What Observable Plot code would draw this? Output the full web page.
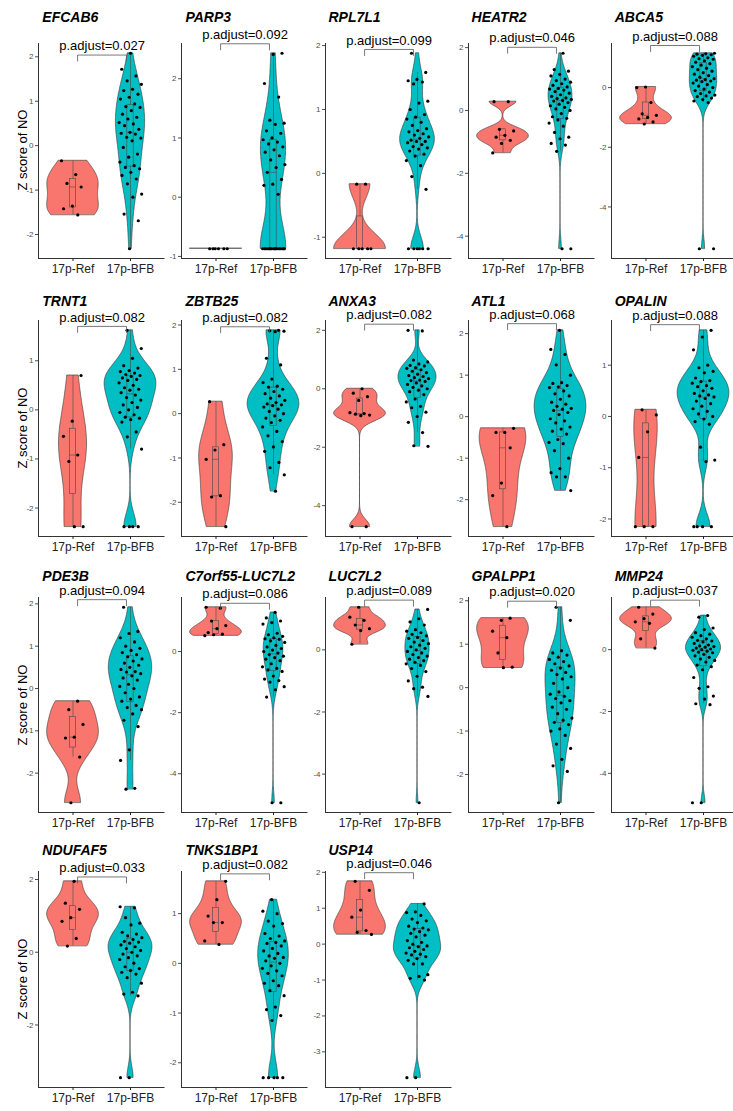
<!DOCTYPE html>
<html><head><meta charset="utf-8">
<script src="https://cdn.jsdelivr.net/npm/d3@7"></script>
<script src="https://cdn.jsdelivr.net/npm/@observablehq/plot@0.6"></script>
<style>
html,body{margin:0;padding:0;background:#fff;}
#chart{position:relative;width:733px;height:1111px;overflow:hidden;font-family:"Liberation Sans",Arial,sans-serif;}
.gene{position:absolute;font-weight:bold;font-style:italic;font-size:14px;line-height:1;color:#000;white-space:nowrap;}
.ytitle{position:absolute;font-size:13px;line-height:1;transform:translate(-50%,-50%) rotate(-90deg);white-space:nowrap;color:#000;}
.panel{position:absolute;}
.panel svg{overflow:visible;max-width:none !important;display:block;}
</style></head><body><div id="chart"></div>
<script>
// ---------- data ----------
const groups = ["17p-Ref", "17p-BFB"];
const groupColors = ["#F8766D", "#00BFC4"];
const yTitle = "Z score of NO";
const genes = ["EFCAB6","PARP3","RPL7L1","HEATR2","ABCA5",
  "TRNT1","ZBTB25","ANXA3","ATL1","OPALIN",
  "PDE3B","C7orf55-LUC7L2","LUC7L2","GPALPP1","MMP24",
  "NDUFAF5","TNKS1BP1","USP14"];
const pAdjust = ["0.027","0.092","0.099","0.046","0.088",
  "0.082","0.082","0.082","0.068","0.088",
  "0.094","0.086","0.089","0.020","0.037",
  "0.033","0.082","0.046"];
const bracketY = [2.04,2.59,1.94,2.01,1.41, 1.70,1.96,2.21,2.24,1.79, 2.10,1.58,1.60,1.99,1.60, 2.07,1.80,1.99];
const yTicks = [[-2,-1,0,1,2],[-1,0,1,2],[-1,0,1,2],[-4,-2,0,2],[-4,-2,0],
  [-2,-1,0,1],[-2,-1,0,1,2],[-4,-2,0,2],[-2,-1,0,1,2],[-2,-1,0,1],
  [-2,-1,0,1,2],[-4,-2,0],[-4,-2,0],[-2,-1,0,1,2],[-4,-2,0],
  [-2,0,2],[-2,-1,0,1],[-3,-2,-1,0,1,2]];
const refZ = [
  [-0.34,-0.65,-0.85,-0.93,-1.36,-1.42,-1.56],
  [-0.87,-0.87,-0.87,-0.87,-0.87,-0.87],
  [-0.17,-0.17,-1.18,-1.18,-1.18,-1.18,-1.18],
  [0.28,0.28,-0.6,-0.65,-0.79,-0.85,-0.95,-1.05,-1.35],
  [0.02,0.0,-0.5,-0.88,-0.93,-1.0,-1.05,-1.15,-1.22],
  [0.7,-0.23,-0.54,-0.92,-1.05,-2.38,-2.38],
  [0.27,-0.7,-0.82,-1.03,-1.85,-1.88,-2.55],
  [0.0,-0.15,-0.27,-0.4,-0.82,-0.85,-0.87,-0.9,-0.92,-4.72,-4.72],
  [-0.28,-0.38,-0.38,-0.75,-1.6,-1.9,-2.65],
  [0.13,0.03,-0.3,-0.8,-2.15,-2.15,-2.15],
  [-0.3,-0.5,-0.85,-1.15,-1.17,-1.62,-2.7],
  [1.45,1.42,1.0,0.85,0.75,0.62,0.57,0.55,0.52],
  [1.37,1.05,0.95,0.8,0.68,0.62,0.18],
  [1.6,1.55,1.3,1.15,0.8,0.47,0.46],
  [1.37,1.15,1.0,0.9,0.85,0.35,0.05],
  [1.95,1.35,1.18,0.95,0.85,0.38,0.17],
  [1.65,1.28,0.95,0.82,0.82,0.45,0.38],
  [1.75,1.5,0.95,0.75,0.38,0.33,0.27]
];
const bfbZ = [
  [2.08,1.72,1.57,1.46,1.38,1.27,1.24,1.16,1.09,1.05,0.94,0.88,0.86,0.79,0.71,0.64,0.6,0.52,0.49,0.45,0.37,0.3,0.28,0.26,0.19,0.17,0.11,-0.04,-0.19,-0.26,-0.37,-0.45,-0.49,-0.52,-0.6,-0.67,-0.75,-0.86,-1.09,-1.16,-1.54,-1.69,-2.32],
  [2.43,2.41,1.92,1.69,1.3,1.25,1.23,1.12,1.08,1.0,0.97,0.93,0.9,0.85,0.8,0.76,0.7,0.63,0.55,0.5,0.42,0.3,0.22,0.2,0.05,-0.87,-0.87,-0.87,-0.87,-0.87,-0.87,-0.87,-0.87,-0.87,-0.87,-0.87,-0.87,-0.87,-0.87,-0.87,-0.87],
  [1.88,1.58,1.47,1.45,1.43,1.4,1.13,1.1,1.0,0.92,0.88,0.85,0.8,0.75,0.7,0.67,0.65,0.62,0.6,0.57,0.55,0.52,0.5,0.5,0.48,0.45,0.42,0.4,0.38,0.35,0.3,0.27,0.2,0.12,-0.05,-0.25,-1.18,-1.18,-1.18,-1.18,-1.18,-1.18],
  [1.82,1.3,1.25,1.15,1.1,1.0,0.95,0.9,0.85,0.8,0.75,0.7,0.68,0.65,0.6,0.55,0.5,0.45,0.4,0.38,0.35,0.32,0.3,0.25,0.2,0.15,0.1,0.05,0.0,-0.1,-0.2,-0.25,-0.3,-0.4,-0.5,-0.7,-0.85,-0.9,-1.05,-1.1,-1.3,-4.4,-4.4],
  [1.15,1.13,1.12,1.1,1.08,1.05,1.0,0.97,0.95,0.9,0.85,0.8,0.75,0.7,0.65,0.6,0.55,0.5,0.45,0.4,0.35,0.3,0.27,0.25,0.22,0.2,0.15,0.1,0.05,0.0,-0.05,-0.1,-0.15,-0.2,-0.25,-0.28,-0.3,-0.35,-0.4,-0.45,-0.5,-5.4,-5.4],
  [1.62,1.25,1.05,0.9,0.85,0.8,0.78,0.75,0.72,0.7,0.68,0.65,0.62,0.6,0.55,0.5,0.45,0.42,0.4,0.35,0.3,0.25,0.2,0.15,0.1,0.05,0.0,-0.05,-0.1,-0.15,-0.17,-0.2,-0.25,-0.45,-0.55,-0.8,-2.38,-2.38,-2.38,-2.38],
  [1.88,1.87,1.86,1.85,1.25,1.1,0.78,0.7,0.62,0.6,0.55,0.5,0.45,0.4,0.35,0.3,0.25,0.22,0.2,0.18,0.15,0.1,0.05,0.0,-0.05,-0.1,-0.15,-0.2,-0.3,-0.4,-0.5,-0.63,-0.75,-0.85,-1.1,-1.22,-1.38,-1.75],
  [2.0,1.98,0.98,0.92,0.85,0.8,0.78,0.72,0.7,0.65,0.6,0.55,0.5,0.45,0.42,0.38,0.35,0.3,0.28,0.25,0.2,0.15,0.1,0.05,0.0,-0.05,-0.1,-0.2,-0.35,-0.45,-0.6,-0.65,-0.8,-0.95,-1.15,-1.5,-1.95,-1.97],
  [2.08,1.62,1.5,1.25,1.0,0.82,0.8,0.75,0.72,0.7,0.62,0.55,0.5,0.42,0.35,0.3,0.25,0.2,0.18,0.15,0.1,0.05,-0.05,-0.1,-0.15,-0.25,-0.3,-0.35,-0.42,-0.55,-0.62,-0.65,-0.82,-1.0,-1.25,-1.35,-1.45,-1.45,-1.78],
  [1.68,1.55,1.3,1.0,0.95,0.88,0.85,0.75,0.7,0.68,0.65,0.6,0.58,0.55,0.5,0.45,0.42,0.4,0.38,0.35,0.3,0.25,0.2,0.15,0.1,0.05,0.0,-0.05,-0.1,-0.15,-0.6,-0.85,-0.88,-2.15,-2.15,-2.15,-2.15],
  [1.92,1.35,1.3,1.2,1.1,1.0,0.95,0.9,0.85,0.8,0.75,0.7,0.65,0.6,0.55,0.5,0.45,0.4,0.39,0.35,0.3,0.25,0.2,0.1,0.05,0.0,-0.1,-0.2,-0.25,-0.3,-0.4,-0.45,-0.5,-0.6,-0.75,-0.9,-1.45,-1.7,-2.36,-2.38],
  [1.28,1.1,1.0,0.95,0.9,0.6,0.55,0.5,0.45,0.42,0.4,0.35,0.3,0.2,0.15,0.1,0.05,0.0,-0.05,-0.1,-0.15,-0.2,-0.25,-0.3,-0.4,-0.5,-0.55,-0.6,-0.65,-0.8,-0.9,-0.95,-1.0,-1.15,-1.25,-1.49,-4.95,-4.95],
  [1.3,1.0,0.9,0.8,0.65,0.6,0.55,0.5,0.45,0.4,0.37,0.3,0.25,0.2,0.15,0.1,0.05,0.0,-0.05,-0.1,-0.15,-0.2,-0.25,-0.3,-0.35,-0.4,-0.45,-0.5,-0.6,-0.7,-0.85,-1.0,-1.2,-1.25,-1.5,-4.92],
  [1.85,1.55,0.85,0.8,0.75,0.7,0.65,0.6,0.55,0.5,0.45,0.4,0.35,0.3,0.25,0.2,0.1,0.0,-0.1,-0.15,-0.2,-0.25,-0.3,-0.35,-0.45,-0.5,-0.6,-0.7,-0.75,-0.8,-0.85,-0.95,-1.0,-1.1,-1.3,-1.4,-1.65,-1.8,-1.93,-2.65],
  [1.1,1.05,0.7,0.65,0.55,0.5,0.45,0.4,0.35,0.3,0.28,0.25,0.2,0.15,0.12,0.1,0.08,0.05,0.02,0.0,-0.02,-0.05,-0.08,-0.1,-0.15,-0.2,-0.25,-0.3,-0.35,-0.4,-0.5,-0.55,-0.65,-0.9,-1.2,-1.25,-1.5,-1.6,-1.75,-1.78,-4.95,-4.95],
  [1.25,1.22,0.95,0.8,0.75,0.55,0.5,0.45,0.4,0.35,0.3,0.28,0.25,0.2,0.15,0.1,0.05,0.0,-0.05,-0.1,-0.15,-0.2,-0.3,-0.4,-0.45,-0.5,-0.55,-0.6,-0.7,-0.85,-1.1,-1.15,-1.2,-3.45,-3.45],
  [1.28,1.05,1.0,0.85,0.8,0.75,0.6,0.55,0.5,0.45,0.42,0.4,0.35,0.3,0.25,0.2,0.15,0.12,0.1,0.05,0.0,-0.05,-0.1,-0.15,-0.2,-0.25,-0.35,-0.4,-0.45,-0.55,-0.65,-0.88,-0.93,-1.05,-1.15,-2.3,-2.3,-2.3,-2.3,-2.3],
  [1.12,0.9,0.88,0.8,0.7,0.65,0.6,0.5,0.45,0.42,0.4,0.35,0.3,0.25,0.2,0.1,0.05,0.0,-0.05,-0.07,-0.1,-0.15,-0.2,-0.25,-0.28,-0.3,-0.35,-0.4,-0.45,-0.55,-0.55,-0.85,-0.9,-0.95,-1.0,-3.72,-3.72]
];

// ---------- layout ----------
const colLeft = i => 38.3 + 143.1 * i;
const rowTop = [42.5, 320, 597, 871];
const rowBottom = [257.5, 536, 812, 1087];
const titleY = [17, 301, 575.5, 850];
const PW = 126.5, ML = 30, MR = 8, MT = 44, MB = 30;

function bwNrd0(v) {
  const n = v.length;
  const s = v.slice().sort(d3.ascending);
  const sd = n > 1 ? d3.deviation(s) : 0;
  const iqr = d3.quantileSorted(s, 0.75) - d3.quantileSorted(s, 0.25);
  let lo = Math.min(sd, iqr / 1.34);
  if (!(lo > 0)) lo = sd || Math.abs(s[0]) || 1;
  return 0.9 * lo * Math.pow(n, -0.2);
}
function density(v) {
  const bw = bwNrd0(v), mn = d3.min(v), mx = d3.max(v), N = 160, out = [];
  for (let k = 0; k <= N; k++) {
    const y = mn + (mx - mn) * k / N;
    let s = 0;
    for (const x of v) { const z = (y - x) / bw; s += Math.exp(-0.5 * z * z); }
    out.push({y, d: s / (v.length * bw * Math.sqrt(2 * Math.PI))});
  }
  return out;
}

const chart = document.getElementById("chart");
const font = '"Liberation Sans", Arial, sans-serif';

genes.forEach((gene, g) => {
  const row = Math.floor(g / 5), col = g % 5;
  const vals = [refZ[g], bfbZ[g]];
  const all = vals.flat();
  const mn = d3.min(all), mx = d3.max(all), r = mx - mn;
  const lo = mn - 0.05 * r, hi = mx + 0.05 * r;
  const H = rowBottom[row] - rowTop[row];
  const dens = vals.map(density);
  const maxD = d3.max(dens.flat(), d => d.d);
  const marks = [];
  vals.forEach((v, k) => {
    const c = k + 1;
    const vp = dens[k].map(p => ({y: p.y, x1: c - 0.45 * p.d / maxD, x2: c + 0.45 * p.d / maxD}));
    marks.push(Plot.areaX(vp, {y: "y", x1: "x1", x2: "x2", fill: groupColors[k], stroke: "#333", strokeWidth: 0.6}));
  });
  vals.forEach((v, k) => {
    const c = k + 1;
    const s = v.slice().sort(d3.ascending);
    const q1 = d3.quantileSorted(s, 0.25), q2 = d3.quantileSorted(s, 0.5), q3 = d3.quantileSorted(s, 0.75);
    const iqr = q3 - q1;
    const wl = d3.min(s.filter(x => x >= q1 - 1.5 * iqr)), wh = d3.max(s.filter(x => x <= q3 + 1.5 * iqr));
    const bs = {stroke: "#4a4a4a", strokeWidth: 0.6};
    marks.push(Plot.ruleX([{x: c, y1: wl, y2: q1}, {x: c, y1: q3, y2: wh}], {x: "x", y1: "y1", y2: "y2", ...bs}));
    marks.push(Plot.rect([{x1: c - 0.055, x2: c + 0.055, y1: q1, y2: q3}], {x1: "x1", x2: "x2", y1: "y1", y2: "y2", fill: groupColors[k], ...bs}));
    marks.push(Plot.ruleY([{y: q2, x1: c - 0.055, x2: c + 0.055}], {y: "y", x1: "x1", x2: "x2", ...bs}));
  });
  vals.forEach((v, k) => {
    const c = k + 1;
    const pts = v.map((y, i) => ({x: c + 0.4 * (((i * 0.6180339887 + g * 0.37 + k * 0.5) % 1) - 0.5), y}));
    marks.push(Plot.dot(pts, {x: "x", y: "y", r: 1.6, fill: "#000", stroke: "none"}));
  });
  // axes lines
  marks.push(Plot.ruleX([{x: 0.4, y1: lo, y2: hi}], {x: "x", y1: "y1", y2: "y2", stroke: "#333", strokeWidth: 1}));
  marks.push(Plot.ruleY([{y: lo, x1: 0.4, x2: 2.6}], {y: "y", x1: "x1", x2: "x2", stroke: "#333", strokeWidth: 1}));
  marks.push(Plot.axisY(yTicks[g].filter(t => t >= lo && t <= hi), {tickSize: 3, tickPadding: 2, fontSize: 8, color: "#4d4d4d", label: null, tickFormat: d => String(d)}));
  marks.push(Plot.axisX([1, 2], {tickSize: 3, tickPadding: 3, fontSize: 12, color: "#222", label: null, tickFormat: d => groups[d - 1]}));
  // bracket
  const ybr = bracketY[g];
  const tip = 6 * (hi - lo) / H;
  marks.push(Plot.line([{x: 1.08, y: ybr - tip}, {x: 1.08, y: ybr}, {x: 1.93, y: ybr}, {x: 1.93, y: ybr - tip}], {x: "x", y: "y", stroke: "#555", strokeWidth: 0.8}));
  marks.push(Plot.text([{x: 1.505, y: ybr, t: "p.adjust=" + pAdjust[g]}], {x: "x", y: "y", text: "t", dy: -9, fontSize: 13, fill: "#000"}));

  const W = ML + PW + MR;
  const svg = Plot.plot({
    width: W, height: MT + H + MB,
    marginLeft: ML, marginRight: MR, marginTop: MT, marginBottom: MB,
    x: {domain: [0.4, 2.6], axis: null},
    y: {domain: [lo, hi], axis: null},
    style: {fontFamily: font, background: "transparent", overflow: "visible", maxWidth: "none"},
    marks
  });
  const div = document.createElement("div");
  div.className = "panel";
  div.style.left = (colLeft(col) - ML) + "px";
  div.style.top = (rowTop[row] - MT) + "px";
  div.style.width = W + "px";
  div.style.height = (MT + H + MB) + "px";
  div.appendChild(svg);
  chart.appendChild(div);

  const t = document.createElement("div");
  t.className = "gene";
  t.textContent = gene;
  t.style.left = (colLeft(col) + 4) + "px";
  t.style.top = (titleY[row] - 7) + "px";
  chart.appendChild(t);

  if (col === 0) {
    const yt = document.createElement("div");
    yt.className = "ytitle";
    yt.textContent = yTitle;
    yt.style.left = "22px";
    yt.style.top = ((rowTop[row] + rowBottom[row]) / 2) + "px";
    chart.appendChild(yt);
  }
});
</script></body></html>
